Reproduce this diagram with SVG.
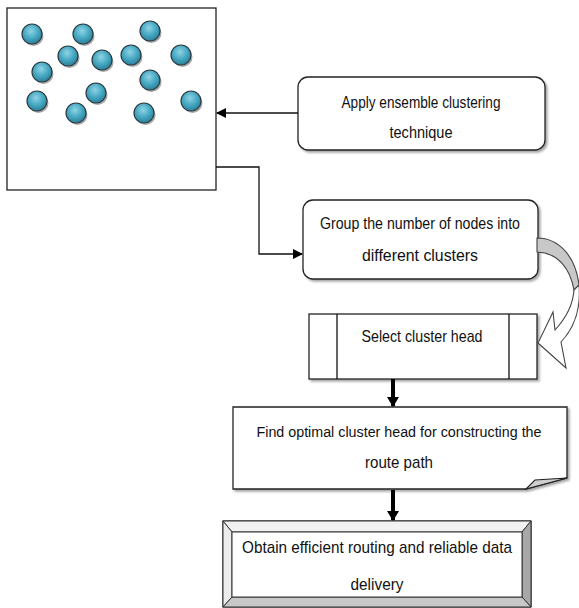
<svg xmlns="http://www.w3.org/2000/svg" width="579" height="608" viewBox="0 0 579 608">
<defs>
<radialGradient id="ball" cx="0.45" cy="0.35" r="0.65">
<stop offset="0" stop-color="#8fd3e3"/>
<stop offset="0.55" stop-color="#47a9c3"/>
<stop offset="1" stop-color="#2b7f99"/>
</radialGradient>
<marker id="ah" markerWidth="10" markerHeight="10" refX="9" refY="5" orient="auto" markerUnits="userSpaceOnUse">
<path d="M0,0 L10,5 L0,10 Z" fill="#000"/>
</marker>
<marker id="ahb" markerWidth="10" markerHeight="12" refX="9" refY="6" orient="auto" markerUnits="userSpaceOnUse">
<path d="M0,0 L10,6 L0,12 Z" fill="#000"/>
</marker>
<filter id="sh" x="-10%" y="-10%" width="130%" height="140%">
<feDropShadow dx="2" dy="2" stdDeviation="1" flood-color="#000" flood-opacity="0.35"/>
</filter>
</defs>
<style>
.t{font-family:"Liberation Sans",Arial,sans-serif;font-size:17px;fill:#111;text-anchor:middle}
.box{fill:#fff;stroke:#222;stroke-width:1.3}
.ln{fill:none;stroke:#111;stroke-width:1.3}
.thick{fill:none;stroke:#000;stroke-width:4}
.b{fill:url(#ball);stroke:#2a3a40;stroke-width:1.2}
.bs{fill:#3a3a3a;opacity:0.45}
</style>
<rect width="579" height="608" fill="#fff"/>

<g id="network">
<rect x="7" y="8" width="209" height="182" class="box"/>
<g id="balls">
<g transform="translate(32,34)"><circle cx="1.5" cy="2" r="10" class="bs"/><circle r="10" class="b"/></g>
<g transform="translate(83,34)"><circle cx="1.5" cy="2" r="10" class="bs"/><circle r="10" class="b"/></g>
<g transform="translate(150,31)"><circle cx="1.5" cy="2" r="10" class="bs"/><circle r="10" class="b"/></g>
<g transform="translate(68,56)"><circle cx="1.5" cy="2" r="10" class="bs"/><circle r="10" class="b"/></g>
<g transform="translate(102,60)"><circle cx="1.5" cy="2" r="10" class="bs"/><circle r="10" class="b"/></g>
<g transform="translate(131,55)"><circle cx="1.5" cy="2" r="10" class="bs"/><circle r="10" class="b"/></g>
<g transform="translate(181,55)"><circle cx="1.5" cy="2" r="10" class="bs"/><circle r="10" class="b"/></g>
<g transform="translate(42,72)"><circle cx="1.5" cy="2" r="10" class="bs"/><circle r="10" class="b"/></g>
<g transform="translate(150,80)"><circle cx="1.5" cy="2" r="10" class="bs"/><circle r="10" class="b"/></g>
<g transform="translate(37,101)"><circle cx="1.5" cy="2" r="10" class="bs"/><circle r="10" class="b"/></g>
<g transform="translate(96,93)"><circle cx="1.5" cy="2" r="10" class="bs"/><circle r="10" class="b"/></g>
<g transform="translate(76,113)"><circle cx="1.5" cy="2" r="10" class="bs"/><circle r="10" class="b"/></g>
<g transform="translate(144,113)"><circle cx="1.5" cy="2" r="10" class="bs"/><circle r="10" class="b"/></g>
<g transform="translate(191,101)"><circle cx="1.5" cy="2" r="10" class="bs"/><circle r="10" class="b"/></g>
</g>
</g>

<g id="apply">
<rect x="298" y="77" width="247" height="73" rx="10" class="box" filter="url(#sh)"/>
<text class="t" x="421" y="108" textLength="159" lengthAdjust="spacingAndGlyphs">Apply ensemble clustering</text>
<text class="t" x="421" y="138" textLength="63" lengthAdjust="spacingAndGlyphs">technique</text>
</g>

<g id="group">
<rect x="303" y="200" width="235" height="79" rx="10" class="box" filter="url(#sh)"/>
<text class="t" x="420" y="229" textLength="200" lengthAdjust="spacingAndGlyphs">Group the number of nodes into</text>
<text class="t" x="420" y="261" textLength="116" lengthAdjust="spacingAndGlyphs">different clusters</text>
</g>

<g id="select">
<rect x="309" y="314" width="228" height="65" class="box" filter="url(#sh)"/>
<line x1="337" y1="314" x2="337" y2="379" class="ln"/>
<line x1="509" y1="314" x2="509" y2="379" class="ln"/>
<text class="t" x="422" y="342" textLength="121" lengthAdjust="spacingAndGlyphs">Select cluster head</text>
</g>

<g id="find">
<path d="M233,407 L567,407 L567,478 L526,489 L233,489 Z" class="box" filter="url(#sh)"/>
<path d="M526,489 L535,480 L567,478 Z" fill="#cfcfcf" stroke="#222" stroke-width="1.1"/>
<text class="t" x="399" y="437" style="font-size:15.5px" textLength="285" lengthAdjust="spacingAndGlyphs">Find optimal cluster head for constructing the</text>
<text class="t" x="399" y="468" textLength="68" lengthAdjust="spacingAndGlyphs">route path</text>
</g>

<g id="obtain">
<rect x="223" y="521" width="308" height="86" fill="#fff" stroke="#222" stroke-width="1.2"/>
<path d="M223,521 L531,521 L522,532 L232,532 Z" fill="#f2f2f2" stroke="#333" stroke-width="1"/>
<path d="M223,521 L232,532 L232,597 L223,607 Z" fill="#ececec" stroke="#333" stroke-width="1"/>
<path d="M531,521 L531,607 L522,597 L522,532 Z" fill="#a8a8a8" stroke="#333" stroke-width="1"/>
<path d="M223,607 L232,597 L522,597 L531,607 Z" fill="#c8c8c8" stroke="#333" stroke-width="1"/>
<rect x="232" y="532" width="290" height="65" fill="#fff" stroke="#333" stroke-width="1"/>
<text class="t" x="377" y="553" textLength="270" lengthAdjust="spacingAndGlyphs">Obtain efficient routing and reliable data</text>
<text class="t" x="377" y="590" textLength="53" lengthAdjust="spacingAndGlyphs">delivery</text>
</g>

<g id="connectors">
<line x1="298" y1="113" x2="217" y2="113" class="ln" marker-end="url(#ah)"/>
<polyline points="216,167 259,167 259,254 302,254" class="ln" marker-end="url(#ah)"/>
<path d="M537,238 C560,238 576,258 579,285 L574,290 C570,268 558,253 537,252 Z" fill="#c8c8c8" stroke="#444" stroke-width="1.1"/>
<path d="M579,285 C581,308 574,328 561,342 L566,368 L538,343 L553,312 L555,330 C566,318 573,305 574,290 Z" fill="#fff" stroke="#444" stroke-width="1.1"/>
<line x1="393" y1="379" x2="393" y2="406" class="thick" marker-end="url(#ahb)"/>
<line x1="393" y1="490" x2="393" y2="520" class="thick" marker-end="url(#ahb)"/>
</g>
</svg>
